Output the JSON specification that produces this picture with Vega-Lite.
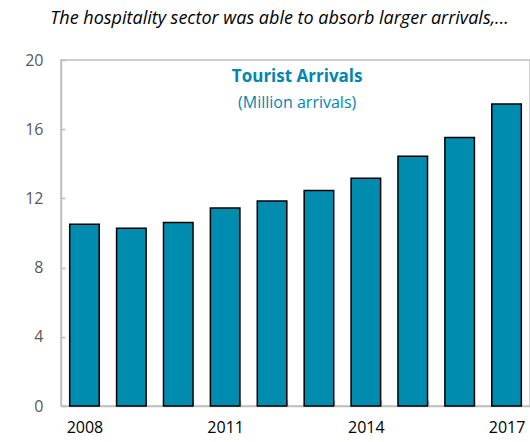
{
  "$schema": "https://vega.github.io/schema/vega-lite/v6.json",
  "width": 469,
  "height": 346,
  "autosize": {"type": "none"},
  "padding": {"left": 61, "top": 60, "right": 0, "bottom": 36},
  "background": "white",
  "title": {
    "text": "The hospitality sector was able to absorb larger arrivals,...",
    "font": "Open Sans",
    "fontSize": 18,
    "fontStyle": "italic",
    "fontWeight": "normal",
    "color": "#000000",
    "anchor": "middle",
    "dx": -16,
    "offset": 24
  },
  "config": {
    "view": {"stroke": "#BFBFBF", "strokeWidth": 1.5},
    "font": "Open Sans"
  },
  "data": {
    "values": [
      {"year": "2008", "arrivals": 10.5},
      {"year": "2009", "arrivals": 10.27},
      {"year": "2010", "arrivals": 10.6},
      {"year": "2011", "arrivals": 11.45},
      {"year": "2012", "arrivals": 11.85},
      {"year": "2013", "arrivals": 12.45},
      {"year": "2014", "arrivals": 13.16},
      {"year": "2015", "arrivals": 14.43},
      {"year": "2016", "arrivals": 15.52},
      {"year": "2017", "arrivals": 17.45}
    ]
  },
  "layer": [
    {
      "mark": {"type": "bar", "color": "#008CAF", "stroke": "#000000", "strokeWidth": 1.5},
      "encoding": {
        "x": {
          "field": "year",
          "type": "ordinal",
          "scale": {"paddingInner": 0.37, "paddingOuter": 0.185},
          "axis": {
            "title": null,
            "labelAngle": 0,
            "labelFontSize": 16,
            "labelColor": "#000000",
            "labelPadding": 19,
            "tickBand": "extent",
            "tickSize": -6,
            "tickColor": "#BFBFBF",
            "tickWidth": 1.5,
            "domainColor": "#BFBFBF",
            "domainWidth": 1.5,
            "labelExpr": "(toNumber(datum.label) - 2008) % 3 == 0 ? datum.label : ''"
          }
        },
        "y": {
          "field": "arrivals",
          "type": "quantitative",
          "scale": {"domain": [0, 20]},
          "axis": {
            "title": null,
            "values": [0, 4, 8, 12, 16, 20],
            "grid": false,
            "labelFontSize": 16,
            "labelColor": "#595959",
            "labelPadding": 22,
            "tickSize": -4,
            "tickColor": "#BFBFBF",
            "tickWidth": 1.5,
            "domainColor": "#BFBFBF",
            "domainWidth": 1.5
          }
        }
      }
    },
    {
      "data": {"values": [{"label": "Tourist Arrivals", "pos": "2012", "v": 19.0}]},
      "mark": {"type": "text", "fontSize": 17, "fontWeight": "bold", "color": "#0087B0", "align": "center", "baseline": "middle"},
      "encoding": {
        "x": {"field": "pos", "type": "ordinal", "bandPosition": 1.35},
        "y": {"field": "v", "type": "quantitative"},
        "text": {"field": "label"}
      }
    },
    {
      "data": {"values": [{"label": "(Million arrivals)", "pos": "2012", "v": 17.5}]},
      "mark": {"type": "text", "fontSize": 16, "color": "#0087B0", "align": "center", "baseline": "middle"},
      "encoding": {
        "x": {"field": "pos", "type": "ordinal", "bandPosition": 1.35},
        "y": {"field": "v", "type": "quantitative"},
        "text": {"field": "label"}
      }
    }
  ]
}
